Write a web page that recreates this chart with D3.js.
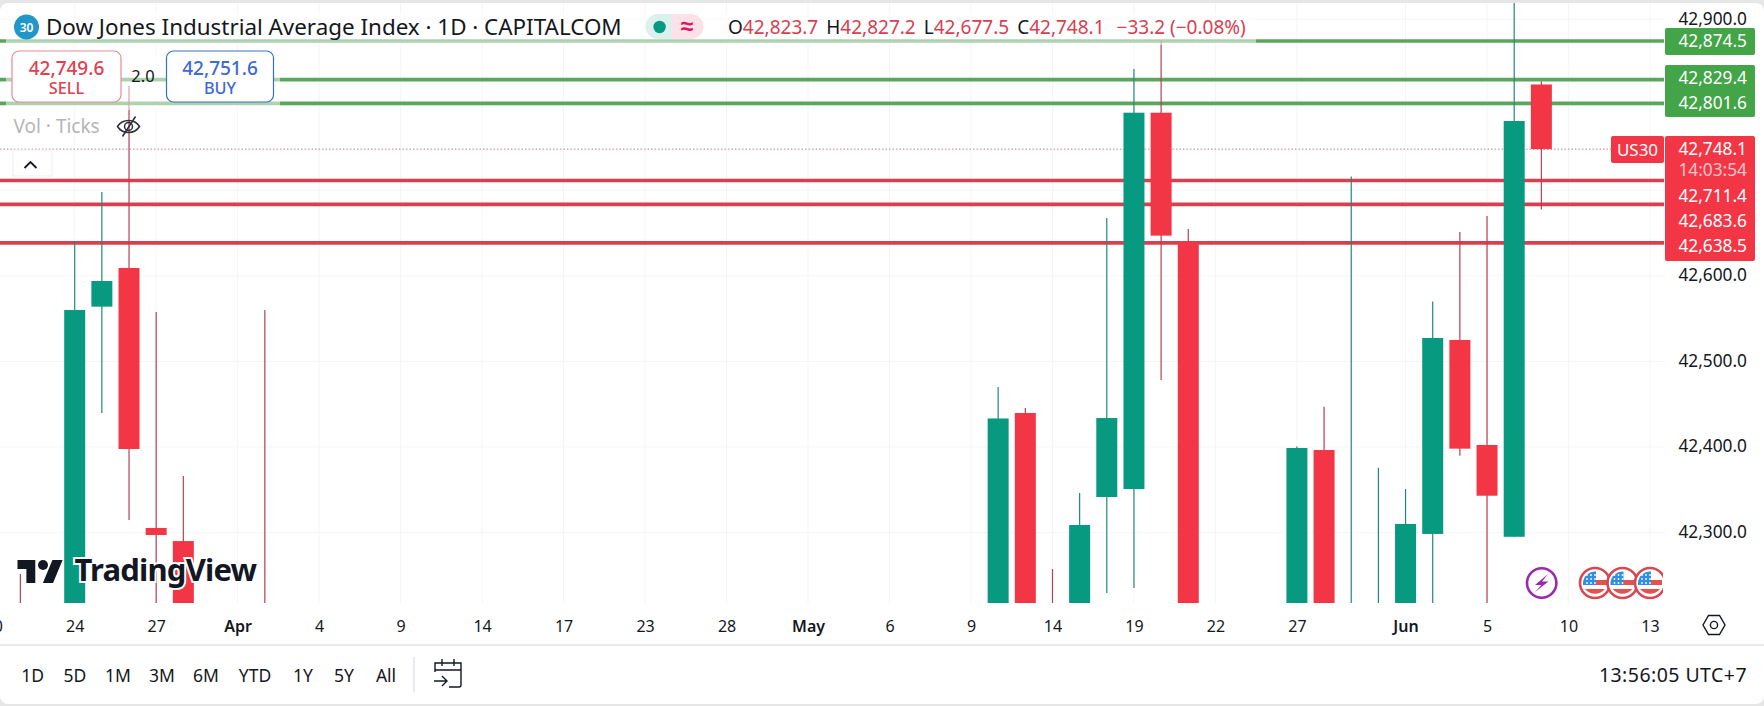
<!DOCTYPE html>
<html>
<head>
<meta charset="utf-8">
<script src="https://cdn.jsdelivr.net/npm/d3@7"></script>
<style>
  body { margin: 0; background: #e6e6e6; overflow: hidden; }
  text { font-family: "Noto Sans", sans-serif; }
</style>
</head>
<body>
<div id="chart"></div>
<script>
// candles, slot = trading bar number counted from the "24" tick
var slots  = [-2, 0, 1, 2, 3, 4, 7, 34, 35, 36, 37, 38, 39, 40, 41, 45, 46, 47, 48, 49, 50, 51, 52, 53, 54];
var opens  = [42190, 42180, 42564, 42609.2, 42305.3, 42290, 42190, 42180, 42439.7, 42190, 42180, 42341.5, 42350.8, 42790.7, 42639.6, 42180, 42396.4, 42180, 42180, 42180, 42298.3, 42525, 42402.3, 42295, 42823.7];
var highs  = [42251.5, 42640.7, 42698, 42822, 42557.7, 42366, 42560, 42470, 42445.5, 42257.3, 42346.2, 42667.6, 42841.8, 42875, 42654.8, 42400.5, 42447, 42716, 42375.7, 42350.8, 42570, 42651.3, 42670, 42919, 42827.2];
var lows   = [42150, 42150, 42439.7, 42314.6, 42150, 42150, 42150, 42150, 42150, 42150, 42150, 42229.3, 42235.1, 42478.3, 42150, 42150, 42150, 42150, 42150, 42150, 42150, 42389.8, 42150, 42295, 42677.5];
var closes = [42180, 42560.1, 42594, 42397.6, 42297.1, 42180, 42180, 42433.3, 42180, 42180, 42308.8, 42433.8, 42790.7, 42647, 42180, 42398.8, 42180, 42190, 42190, 42310, 42527.4, 42398, 42343, 42781, 42748.1];

var tickSlots  = [-3, 0, 3, 6, 9, 12, 15, 18, 21, 24, 27, 30, 33, 36, 39, 42, 45, 49, 52, 55, 58];
var tickLabels = ["20", "24", "27", "Apr", "4", "9", "14", "17", "23", "28", "May", "6", "9", "14", "19", "22", "27", "Jun", "5", "10", "13"];
var boldLabels = ["Apr", "May", "Jun"];

var priceTicks = [42300, 42400, 42500, 42600, 42900];
var gridPrices = [42300, 42400, 42500, 42600, 42700, 42800, 42900];
var upperLines = [42874.5, 42829.4, 42801.6];
var lowerLines = [42711.4, 42683.6, 42638.5];
var lastPrice = 42748.1;
var ranges = ["1D", "5D", "1M", "3M", "6M", "YTD", "1Y", "5Y", "All"];
var rangeX = [32.6, 75, 118, 162, 206, 255, 303, 344, 386];

var UP = "#089981", DOWN = "#f23645";
var plotRight = 1664, plotBottom = 603;

var x = d3.scaleLinear().domain([0, 58]).range([74.7, 1650]);
// 42,900 sits at y 19.2, 100 points are 85.55px
var y = d3.scaleLinear().domain([42900, 42300]).range([19.2, 532.5]);
var fmt = d3.format(",.1f");

var svg = d3.select("#chart").append("svg")
  .attr("width", 1764).attr("height", 706)
  .style("display", "block");

svg.append("rect").attr("x", 0).attr("y", 3).attr("width", 1764).attr("height", 701)
  .attr("rx", 8).attr("fill", "#fff");

svg.append("defs").append("clipPath").attr("id", "plot").append("rect")
  .attr("x", 0).attr("y", 3).attr("width", plotRight).attr("height", plotBottom - 3);
svg.select("defs").append("clipPath").attr("id", "flags").append("rect")
  .attr("x", 1500).attr("y", 550).attr("width", 163).attr("height", 60);

// grid
var grid = svg.append("g");
grid.selectAll(".h").data(gridPrices).enter().append("line")
  .attr("x1", 0).attr("x2", plotRight)
  .attr("y1", function(d) { return y(d); }).attr("y2", function(d) { return y(d); })
  .attr("stroke", "#f5f5f6");
grid.selectAll(".v").data(tickSlots).enter().append("line")
  .attr("x1", function(d) { return x(d); }).attr("x2", function(d) { return x(d); })
  .attr("y1", 3).attr("y2", plotBottom)
  .attr("stroke", "#f5f5f6");

var plot = svg.append("g").attr("clip-path", "url(#plot)");

// price lines
plot.selectAll(".upper").data(upperLines).enter().append("line")
  .attr("x1", 0).attr("x2", plotRight)
  .attr("y1", function(d) { return y(d); }).attr("y2", function(d) { return y(d); })
  .attr("stroke", "#5ba55e").attr("stroke-width", 3.6);
plot.selectAll(".lower").data(lowerLines).enter().append("line")
  .attr("x1", 0).attr("x2", plotRight)
  .attr("y1", function(d) { return y(d); }).attr("y2", function(d) { return y(d); })
  .attr("stroke", "#d8404f").attr("stroke-width", 3.6);

plot.append("line")
  .attr("x1", 0).attr("x2", 1611)
  .attr("y1", y(lastPrice)).attr("y2", y(lastPrice))
  .attr("stroke", "#b5838a").attr("stroke-width", 1).attr("stroke-dasharray", "1.5 2");

// candles
var idx = d3.range(slots.length);
function colour(i) { return closes[i] >= opens[i] ? UP : DOWN; }

plot.selectAll(".wick").data(idx).enter().append("line")
  .attr("x1", function(i) { return x(slots[i]); })
  .attr("x2", function(i) { return x(slots[i]); })
  .attr("y1", function(i) { return y(highs[i]); })
  .attr("y2", function(i) { return y(lows[i]); })
  .attr("stroke", function(i) { return closes[i] >= opens[i] ? "#1f8a78" : "#b8404f"; })
  .attr("stroke-width", 1.2);

plot.selectAll(".body").data(idx).enter().append("rect")
  .attr("x", function(i) { return x(slots[i]) - 10.5; })
  .attr("width", 21)
  .attr("y", function(i) { return y(Math.max(opens[i], closes[i])); })
  .attr("height", function(i) { return Math.abs(y(opens[i]) - y(closes[i])); })
  .attr("fill", colour);

// legend veil over the lines
svg.append("rect").attr("x", 6).attr("y", 12).attr("width", 1250).attr("height", 33)
  .attr("fill", "#fff").attr("opacity", 0.5);
svg.append("rect").attr("x", 6).attr("y", 50).attr("width", 274).attr("height", 60)
  .attr("fill", "#fff").attr("opacity", 0.5);

// title row
svg.append("circle").attr("cx", 26.5).attr("cy", 27).attr("r", 12.5).attr("fill", "#2196c9");
svg.append("text").attr("x", 26.5).attr("y", 31.5).attr("text-anchor", "middle")
  .attr("font-size", 12).attr("font-weight", 600).attr("fill", "#fff").text("30");
svg.append("text").attr("x", 46).attr("y", 35).attr("font-size", 22.4).attr("fill", "#131722")
  .text("Dow Jones Industrial Average Index · 1D · CAPITALCOM");

svg.append("path").attr("d", "M658 14H672V39H658a12.5 12.5 0 0 1 0-25z").attr("fill", "#dcf1ee");
svg.append("path").attr("d", "M672 14H691a12.5 12.5 0 0 1 0 25H672z").attr("fill", "#fde1e9");
svg.append("circle").attr("cx", 659.6).attr("cy", 27).attr("r", 6.2).attr("fill", UP);
svg.append("text").attr("x", 687).attr("y", 34).attr("text-anchor", "middle")
  .attr("font-size", 23).attr("font-weight", 700).attr("fill", "#d81b60").text("≈");

var ohlc = svg.append("text").attr("x", 728).attr("y", 33.5).attr("font-size", 19).attr("fill", "#d8404f");
[["O", "42,823.7"], ["H", "42,827.2"], ["L", "42,677.5"], ["C", "42,748.1"]].forEach(function(p, i) {
  ohlc.append("tspan").attr("fill", "#131722").attr("dx", i ? 8 : 0).text(p[0]);
  ohlc.append("tspan").text(p[1]);
});
ohlc.append("tspan").attr("dx", 12).text("−33.2 (−0.08%)");

// sell / buy boxes
function tradeBox(x0, w, col, border, value, label) {
  svg.append("rect").attr("x", x0).attr("y", 51).attr("width", w).attr("height", 51)
    .attr("rx", 7).attr("fill", "#fff").attr("stroke", border).attr("stroke-width", 1.2);
  svg.append("text").attr("x", x0 + w / 2).attr("y", 74.5).attr("text-anchor", "middle")
    .attr("font-size", 19).attr("font-weight", 500).attr("fill", col).text(value);
  svg.append("text").attr("x", x0 + w / 2).attr("y", 94).attr("text-anchor", "middle")
    .attr("font-size", 16.3).attr("font-weight", 500).attr("fill", col).text(label);
}
tradeBox(12, 109, "#e0404f", "#e58b95", "42,749.6", "SELL");
tradeBox(166.5, 107, "#3f68d8", "#3a70c8", "42,751.6", "BUY");
svg.append("text").attr("x", 143).attr("y", 81.5).attr("text-anchor", "middle")
  .attr("font-size", 16.5).attr("fill", "#131722").text("2.0");

// Vol row
svg.append("text").attr("x", 13.5).attr("y", 133).attr("font-size", 19).attr("fill", "#b5b5b8").text("Vol · Ticks");
var eye = svg.append("g").attr("transform", "translate(128.5,126.5)")
  .attr("fill", "none").attr("stroke", "#2a2e39").attr("stroke-width", 1.5);
eye.append("path").attr("d", "M-11 0C-6-8 6-8 11 0C6 8-6 8-11 0z");
eye.append("circle").attr("r", 4);
eye.append("path").attr("d", "M-6 10L7-10");

svg.append("rect").attr("x", 13).attr("y", 150).attr("width", 39).attr("height", 26)
  .attr("fill", "#fff").attr("stroke", "#eeeef0");
svg.append("path").attr("d", "M24.5 168L30.5 162L36.5 168").attr("fill", "none")
  .attr("stroke", "#131722").attr("stroke-width", 1.8);

// logo
svg.append("path")
  .attr("transform", "translate(17.5,555) scale(1.27)")
  .attr("d", "M14 22H7V11H0V4h14v18zM28 22h-8l7.5-18h8L28 22z")
  .attr("fill", "#131722").attr("stroke", "#fff").attr("stroke-width", 1.5)
  .attr("paint-order", "stroke");
svg.append("circle").attr("cx", 43).attr("cy", 565).attr("r", 5).attr("fill", "#131722");
svg.append("text").attr("x", 74.5).attr("y", 581).attr("font-size", 31).attr("font-weight", 700)
  .attr("fill", "#131722").attr("stroke", "#fff").attr("stroke-width", 4)
  .attr("paint-order", "stroke").attr("letter-spacing", -0.8).text("TradingView");

// event markers
svg.append("circle").attr("cx", 1541.7).attr("cy", 583).attr("r", 14.7)
  .attr("fill", "#fff").attr("stroke", "#9c27b0").attr("stroke-width", 2.6);
svg.append("path").attr("d", "M1548 574L1535 585H1541.5L1535 592L1548.5 581.5H1542z").attr("fill", "#9c27b0");

var flags = svg.append("g").attr("clip-path", "url(#flags)");
[1595, 1622.5, 1650].forEach(function(cx) {
  var f = flags.append("g").attr("transform", "translate(" + cx + ",583)");
  f.append("circle").attr("r", 15).attr("fill", "#fff").attr("stroke", "#d9474f").attr("stroke-width", 2.6);
  f.append("path").attr("d", "M0-3H12V2H0zM-10 6H10A13 13 0 0 1 -10 6z").attr("fill", "#e2534f");
  f.append("path").attr("d", "M-12 2V0A12 12 0 0 1 1-11.5V2z").attr("fill", "#2f8fe6");
  [-8, -4, 0].forEach(function(dy) {
    [-8, -4, 0].forEach(function(dx) {
      f.append("circle").attr("cx", dx).attr("cy", dy).attr("r", 0.9).attr("fill", "#fff");
    });
  });
});

// price axis
var yAxis = d3.axisRight(y).tickValues(priceTicks).tickSize(0).tickFormat(fmt);
var yg = svg.append("g").attr("transform", "translate(" + plotRight + ",-0.7)").call(yAxis);
yg.select(".domain").remove();
yg.selectAll("text").attr("x", 83).attr("dy", "0.32em")
  .attr("text-anchor", "end").attr("font-size", 17.3)
  .style("font-family", '"Noto Sans", sans-serif').attr("fill", "#131722");

function labelBox(y0, h, col) {
  svg.append("rect").attr("x", 1665).attr("y", y0).attr("width", 90).attr("height", h)
    .attr("rx", 2).attr("fill", col);
}
function labelText(cy, s, col, op) {
  svg.append("text").attr("x", 1747).attr("y", cy + 6).attr("text-anchor", "end")
    .attr("font-size", 17.3).attr("fill", col || "#fff").attr("opacity", op || 1).text(s);
}
labelBox(28, 27, "#43a547");
labelBox(65, 52, "#43a547");
labelBox(136, 125, DOWN);
labelText(41, fmt(upperLines[0]));
labelText(78, fmt(upperLines[1]));
labelText(103, fmt(upperLines[2]));
labelText(149, fmt(lastPrice));
labelText(170, "14:03:54", "#fff", 0.7);
labelText(196, fmt(lowerLines[0]));
labelText(221, fmt(lowerLines[1]));
labelText(246, fmt(lowerLines[2]));

svg.append("rect").attr("x", 1611).attr("y", 136).attr("width", 53).attr("height", 27)
  .attr("rx", 2).attr("fill", DOWN);
svg.append("text").attr("x", 1637.5).attr("y", 155.5).attr("text-anchor", "middle")
  .attr("font-size", 17).attr("fill", "#fff").text("US30");

// time axis
var xAxis = d3.axisBottom(x).tickValues(tickSlots).tickSize(0)
  .tickFormat(function(d, i) { return tickLabels[i]; });
var xg = svg.append("g").attr("transform", "translate(0," + plotBottom + ")").call(xAxis);
xg.select(".domain").remove();
xg.selectAll("text").attr("y", 24).attr("dy", "0.32em").attr("font-size", 16)
  .style("font-family", '"Noto Sans", sans-serif').attr("fill", "#131722")
  .attr("font-weight", function(d, i) { return boldLabels.indexOf(tickLabels[i]) >= 0 ? 600 : 400; });

svg.append("line").attr("x1", 0).attr("x2", 1764).attr("y1", 645).attr("y2", 645)
  .attr("stroke", "#e0e3eb").attr("stroke-width", 1.5);

// settings hexagon
var gear = svg.append("g").attr("transform", "translate(1714,625)")
  .attr("fill", "none").attr("stroke", "#131722").attr("stroke-width", 1.4);
gear.append("path").attr("d", "M-11 0L-5.5-9.5H5.5L11 0L5.5 9.5H-5.5z");
gear.append("circle").attr("r", 3.6);

// bottom toolbar
svg.selectAll(".range").data(ranges).enter().append("text")
  .attr("x", function(d, i) { return rangeX[i]; }).attr("y", 681.5)
  .attr("text-anchor", "middle").attr("font-size", 17.5).attr("fill", "#131722")
  .text(function(d) { return d; });
svg.append("line").attr("x1", 414).attr("x2", 414).attr("y1", 657).attr("y2", 692)
  .attr("stroke", "#e0e3eb").attr("stroke-width", 1.5);

var cal = svg.append("g").attr("transform", "translate(448,673)")
  .attr("fill", "none").attr("stroke", "#131722").attr("stroke-width", 1.4);
cal.append("path").attr("d", "M-13-1V-10H13V12a2 2 0 0 1-2 2H1");
cal.append("path").attr("d", "M-13-3H13M-6-14V-7M6-14V-7");
cal.append("path").attr("d", "M-14 8H-2M-6 3L-1 8L-6 13");

svg.append("text").attr("x", 1747).attr("y", 682).attr("text-anchor", "end")
  .attr("font-size", 19.5).attr("letter-spacing", 0.45).attr("fill", "#131722").text("13:56:05 UTC+7");
</script>
</body>
</html>
